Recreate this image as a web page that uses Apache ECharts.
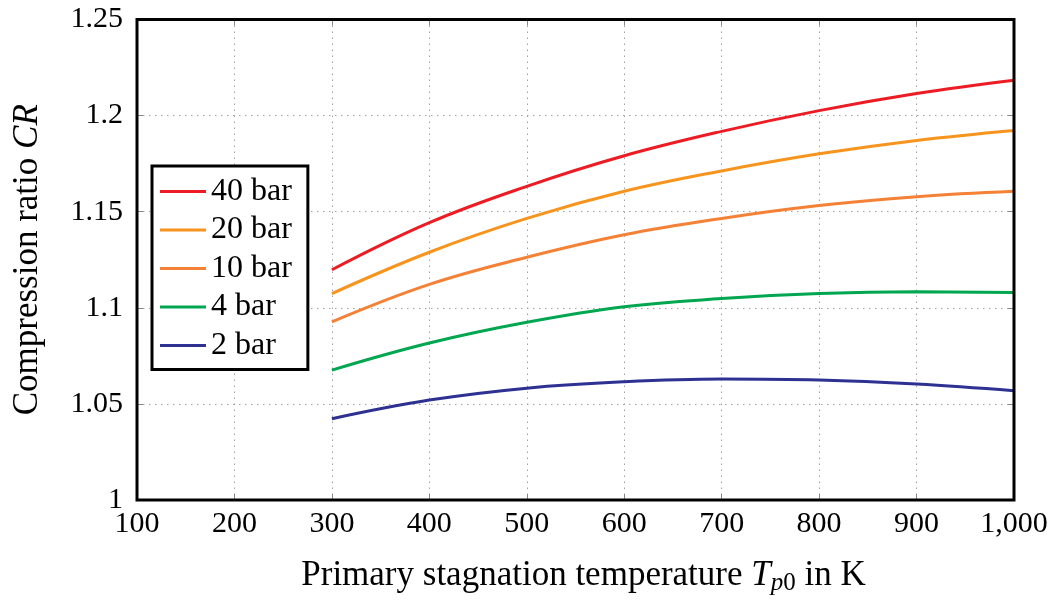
<!DOCTYPE html>
<html>
<head>
<meta charset="utf-8">
<script src="https://cdn.jsdelivr.net/npm/echarts@6/dist/echarts.min.js"></script>
<style>
html,body{margin:0;padding:0;background:#fff;}
#chart{width:1053px;height:601px;}
</style>
</head>
<body>
<div id="chart"></div>
<script>
// Data
const temps = [300, 400, 500, 600, 700, 800, 900, 1000];
const bar40 = [1.1198, 1.1443, 1.1632, 1.1791, 1.1918, 1.2026, 1.2115, 1.2184];
const bar20 = [1.1074, 1.1289, 1.1465, 1.1606, 1.1712, 1.1801, 1.1871, 1.1923];
const bar10 = [1.0927, 1.1122, 1.1263, 1.1380, 1.1465, 1.1532, 1.1578, 1.1606];
const bar4  = [1.0676, 1.0817, 1.0925, 1.1006, 1.1048, 1.1074, 1.1083, 1.1079];
const bar2  = [1.0423, 1.0520, 1.0582, 1.0615, 1.0629, 1.0624, 1.0603, 1.0568];
const seriesNames = ['40 bar', '20 bar', '10 bar', '4 bar', '2 bar'];
const seriesValues = [bar40, bar20, bar10, bar4, bar2];
const seriesColors = ['#ed1c24', '#f7941d', '#f58137', '#00a650', '#2e3192'];
const xTicks = {min: 100, max: 1000, interval: 100};
const yTicks = {min: 1, max: 1.25, interval: 0.05};

const FONT = 'Liberation Serif';
const chart = echarts.init(document.getElementById('chart'), null, {renderer: 'canvas'});

const gridLine = {show: true, lineStyle: {color: '#a0a0a0', width: 1, type: [1.5, 4.5]}};
const tick = {show: true, inside: true, length: 6, lineStyle: {color: '#888', width: 1}};

const series = seriesNames.map((n, i) => ({
  name: n,
  type: 'line',
  smooth: 0.4,
  showSymbol: false,
  symbol: 'none',
  data: temps.map((t, j) => [t, seriesValues[i][j]]),
  lineStyle: {color: seriesColors[i], width: 3},
  itemStyle: {color: seriesColors[i]},
  z: 5 - i + 2
}));

chart.setOption({
  animation: false,
  backgroundColor: '#fff',
  grid: {left: 137, right: 39, top: 19.5, bottom: 96, show: true, borderColor: '#000', borderWidth: 3, backgroundColor: 'transparent', z: 10},
  legend: {
    show: true,
    orient: 'vertical',
    left: 152, top: 166,
    data: seriesNames,
    icon: 'rect',
    itemWidth: 46, itemHeight: 3,
    itemGap: 6.5,
    padding: [9.5, 16, 8, 8],
    borderColor: '#000', borderWidth: 3,
    backgroundColor: '#fff',
    textStyle: {fontFamily: FONT, fontSize: 32, color: '#000', lineHeight: 32},
    selectedMode: false
  },
  xAxis: [{
    type: 'value', position: 'bottom',
    min: xTicks.min, max: xTicks.max, interval: xTicks.interval,
    name: '{n|Primary stagnation temperature }{i|T}{s|p}{s0|0}{n| in K}',
    nameLocation: 'middle', nameGap: 55,
    nameTextStyle: {
      fontFamily: FONT, fontSize: 35, color: '#000', verticalAlign: 'top', padding: [0, 0, 0, 16],
      rich: {
        n: {fontFamily: FONT, fontSize: 35, color: '#000'},
        i: {fontFamily: FONT, fontSize: 35, fontStyle: 'italic', color: '#000'},
        s: {fontFamily: FONT, fontSize: 25, fontStyle: 'italic', color: '#000', verticalAlign: 'bottom', padding: [16, 0, 0, 0]},
        s0: {fontFamily: FONT, fontSize: 25, color: '#000', verticalAlign: 'bottom', padding: [16, 0, 0, 0]}
      }
    },
    axisLine: {show: false},
    axisTick: tick,
    splitLine: gridLine,
    axisLabel: {fontFamily: FONT, fontSize: 30, color: '#000', margin: 9,
      formatter: v => v >= 1000 ? (Math.floor(v / 1000) + ',' + String(v % 1000).padStart(3, '0')) : String(v)}
  }, {
    type: 'value', position: 'top',
    min: xTicks.min, max: xTicks.max, interval: xTicks.interval,
    axisLine: {show: false}, axisTick: tick, axisLabel: {show: false}, splitLine: {show: false}
  }],
  yAxis: [{
    type: 'value', position: 'left',
    min: yTicks.min, max: yTicks.max, interval: yTicks.interval,
    name: '{n|Compression ratio }{i|CR}',
    nameLocation: 'middle', nameGap: 92,
    nameTextStyle: {
      fontFamily: FONT, fontSize: 35, color: '#000',
      rich: {
        n: {fontFamily: FONT, fontSize: 35, color: '#000'},
        i: {fontFamily: FONT, fontSize: 35, fontStyle: 'italic', color: '#000'}
      }
    },
    axisLine: {show: false},
    axisTick: tick,
    splitLine: gridLine,
    axisLabel: {fontFamily: FONT, fontSize: 30, color: '#000', margin: 14,
      formatter: v => String(parseFloat(v.toFixed(2)))}
  }, {
    type: 'value', position: 'right',
    min: yTicks.min, max: yTicks.max, interval: yTicks.interval,
    axisLine: {show: false}, axisTick: tick, axisLabel: {show: false}, splitLine: {show: false}
  }],
  series: series
});
</script>
</body>
</html>
